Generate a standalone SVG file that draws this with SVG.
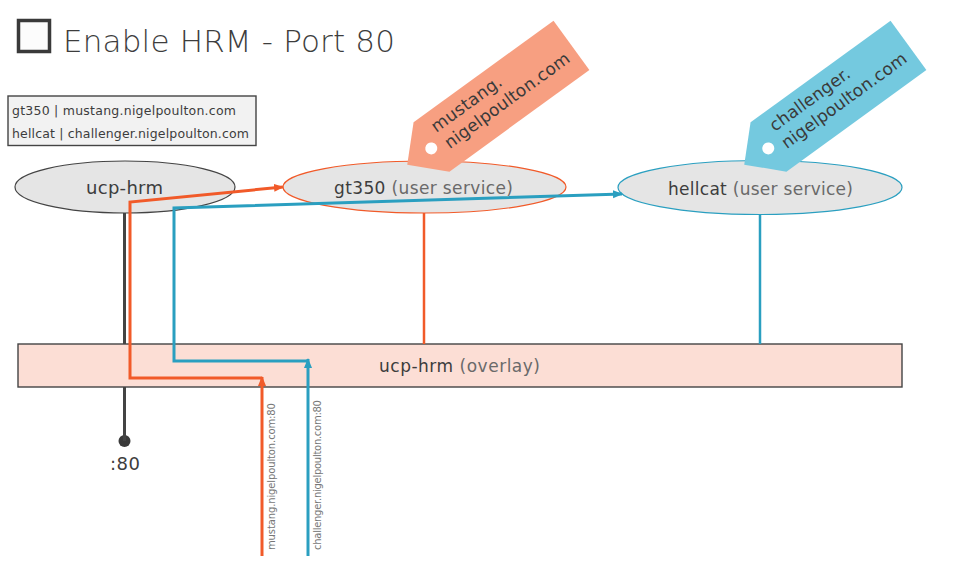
<svg xmlns="http://www.w3.org/2000/svg" width="953" height="563" viewBox="0 0 953 563">
<style>
text{font-family:"DejaVu Sans","Liberation Sans",sans-serif;fill:#3d3d3d}
.lt{fill:#6a6a6a}
.ell{fill:#e5e5e5;stroke-width:1.2}
.or{stroke:#f15a29}
.bl{stroke:#2a9fc0}
.conn{fill:none;stroke-width:3}
.lbl{font-size:10px;fill:#777}
.tagt{font-size:17px;fill:#3a3a3a}
</style>
<defs>
<marker id="aO" markerUnits="userSpaceOnUse" markerWidth="10" markerHeight="10" viewBox="0 0 10 10" refX="9" refY="5" orient="auto"><path d="M0,1 L10,5 L0,9 Z" fill="#f15a29"/></marker>
<marker id="aB" markerUnits="userSpaceOnUse" markerWidth="10" markerHeight="10" viewBox="0 0 10 10" refX="9" refY="5" orient="auto"><path d="M0,1 L10,5 L0,9 Z" fill="#2a9fc0"/></marker>
</defs>
<rect width="953" height="563" fill="#ffffff"/>
<g id="title">
<rect x="18.5" y="20.5" width="31" height="31" fill="#fcfcfc" stroke="#3a3a3a" stroke-width="3.5"/>
<text x="63" y="52" font-size="31" font-weight="300" fill="#505050" textLength="332">Enable HRM - Port 80</text>
</g>
<g id="legend">
<rect x="8" y="96" width="248" height="49.5" fill="#f2f2f2" stroke="#444" stroke-width="1.4"/>
<text x="12" y="115" font-size="12.5" fill="#555" textLength="224">gt350 | mustang.nigelpoulton.com</text>
<text x="12" y="138" font-size="12.5" fill="#555" textLength="237">hellcat | challenger.nigelpoulton.com</text>
</g>
<g id="overlay">
<rect x="18" y="344" width="884" height="43" fill="#fcded5" stroke="#444" stroke-width="1.4"/>
<text x="379" y="372" font-size="17" textLength="161">ucp-hrm <tspan class="lt">(overlay)</tspan></text>
</g>
<g id="ucp-hrm">
<ellipse cx="125" cy="187" rx="110" ry="26" class="ell" stroke="#444"/>
<text x="86" y="194" font-size="18" textLength="77">ucp-hrm</text>
</g>
<g id="gt350">
<ellipse cx="424.5" cy="187" rx="141.5" ry="26" class="ell" stroke="#f15a29"/>
<text x="334" y="194" font-size="17" textLength="179">gt350 <tspan class="lt">(user service)</tspan></text>
</g>
<g id="hellcat">
<ellipse cx="760" cy="187.5" rx="142" ry="27" class="ell" stroke="#2a9fc0"/>
<text x="668" y="195" font-size="17" textLength="185">hellcat <tspan class="lt">(user service)</tspan></text>
</g>
<g id="tag-mustang" transform="translate(431.5,147) rotate(-36)">
<polygon points="-30,0 0,-30.5 173,-30.5 173,30.5 0,30.5" fill="#f79f81"/>
<circle cx="-1" cy="1" r="6" fill="#ffffff"/>
<text x="12" y="-8.5" class="tagt" textLength="83">mustang.</text>
<text x="13.5" y="12.5" class="tagt" textLength="150">nigelpoulton.com</text>
</g>
<g id="tag-challenger" transform="translate(768.5,147) rotate(-36)">
<polygon points="-30,0 0,-30.5 173,-30.5 173,30.5 0,30.5" fill="#74c9df"/>
<circle cx="-1" cy="1" r="6" fill="#ffffff"/>
<text x="14" y="-8.5" class="tagt" textLength="95">challenger.</text>
<text x="13.5" y="12.5" class="tagt" textLength="150">nigelpoulton.com</text>
</g>
<g id="port80">
<circle cx="124.5" cy="441" r="6" fill="#3a3a3a"/>
<text x="125" y="470" font-size="18" text-anchor="middle" textLength="30">:80</text>
</g>
<g id="connectors">
<path d="M124.5,213 V344 M124.5,387 V441" class="conn" stroke="#444"/>
<path d="M424,213 V344" fill="none" stroke="#f15a29" stroke-width="2.5"/>
<path d="M760,214.5 V344" fill="none" stroke="#2a9fc0" stroke-width="2.5"/>
<path d="M262,556 V377" class="conn or" marker-end="url(#aO)"/>
<path d="M262,378 H130 V202 L283,187" class="conn or" marker-end="url(#aO)"/>
<path d="M308,556 V359" class="conn bl" marker-end="url(#aB)"/>
<path d="M308,361 H174 V208 L622,194" class="conn bl" marker-end="url(#aB)"/>
</g>
<g id="labels">
<text class="lbl" transform="translate(275,550) rotate(-90)" textLength="147">mustang.nigelpoulton.com:80</text>
<text class="lbl" transform="translate(321,550) rotate(-90)" textLength="150">challenger.nigelpoulton.com:80</text>
</g>
</svg>
